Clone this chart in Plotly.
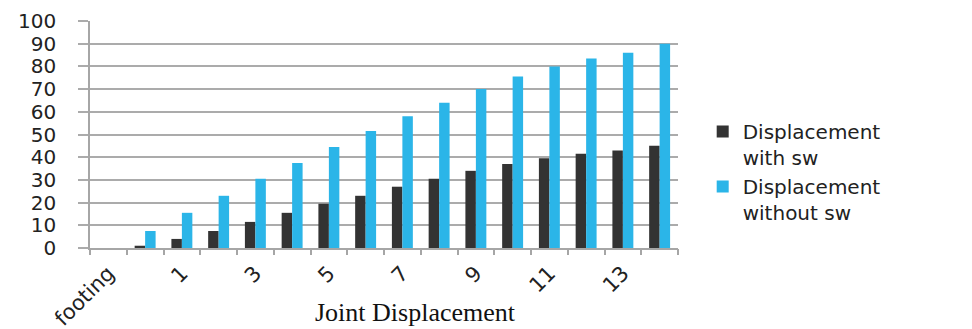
import plotly.graph_objects as go

categories = ["footing"] + [str(i) for i in range(0, 15)]
with_sw = [0, 1, 4, 7.5, 11.5, 15.5, 19.5, 23, 27, 30.5, 34, 37, 39.5, 41.5, 43, 45]
without_sw = [0, 7.5, 15.5, 23, 30.5, 37.5, 44.5, 51.5, 58, 64, 70, 75.5, 80, 83.5, 86, 90]
shown_labels = categories[::2]

xtick_font = dict(family="DejaVu Sans", size=21, color="#222222")
ytick_font = dict(family="DejaVu Sans", size=20, color="#222222")

fig = go.Figure()
fig.add_trace(go.Bar(x=categories, y=with_sw, name="Displacement<br>with sw",
                     marker=dict(color="#333333", line=dict(width=0))))
fig.add_trace(go.Bar(x=categories, y=without_sw, name="Displacement<br>without sw",
                     marker=dict(color="#2BB5E8", line=dict(width=0))))
# invisible helper trace for the boundary tick axis
fig.add_trace(go.Scatter(x=categories, y=[None] * len(categories), xaxis="x2",
                         showlegend=False, hoverinfo="skip", mode="markers"))

fig.update_layout(
    width=972, height=329,
    margin=dict(l=90, r=294, t=21, b=81, autoexpand=False),
    paper_bgcolor="white", plot_bgcolor="white",
    barmode="group", bargap=0.43, bargroupgap=0.0,
    font=dict(family="DejaVu Sans", color="#222222"),
    xaxis=dict(type="category", categoryorder="array", categoryarray=categories,
               tickmode="array", tickvals=shown_labels, ticktext=shown_labels,
               tickangle=-45, ticks="", tickfont=xtick_font, automargin=False,
               ticklabelstandoff=3,
               showline=True, linecolor="#A6A6A6", linewidth=1.5,
               showgrid=False, range=[-0.5, 15.5]),
    xaxis2=dict(type="category", categoryorder="array", categoryarray=categories,
                overlaying="x", side="bottom", anchor="y", matches="x",
                tickson="boundaries", ticks="outside", ticklen=6, tickwidth=1.5,
                tickcolor="#A6A6A6", showticklabels=False, showgrid=False,
                showline=False, automargin=False, range=[-0.5, 15.5]),
    yaxis=dict(range=[0, 100], dtick=10, tickmode="linear", automargin=False,
               showgrid=True, gridcolor="#ABABAB", gridwidth=1.5,
               showline=True, linecolor="#A6A6A6", linewidth=1.5,
               ticks="outside", ticklen=10, tickwidth=1.5, tickcolor="#ABABAB",
               ticklabelstandoff=18, tickfont=ytick_font, zeroline=False),
    legend=dict(x=1.042, y=0.335, xanchor="left", yanchor="middle",
                font=dict(family="DejaVu Sans", size=20, color="#222222"),
                valign="top", itemsizing="constant", tracegroupgap=2,
                bgcolor="rgba(0,0,0,0)"),
    annotations=[dict(text="Joint Displacement", xref="paper", yref="paper",
                      x=0.553, y=-0.282, xanchor="center", yanchor="middle",
                      showarrow=False,
                      font=dict(family="Liberation Serif", size=26, color="#111111"))],
)

fig.write_html("out.html", config={"displayModeBar": False},
               post_script="document.body.style.margin='0';document.body.style.overflow='hidden';")
